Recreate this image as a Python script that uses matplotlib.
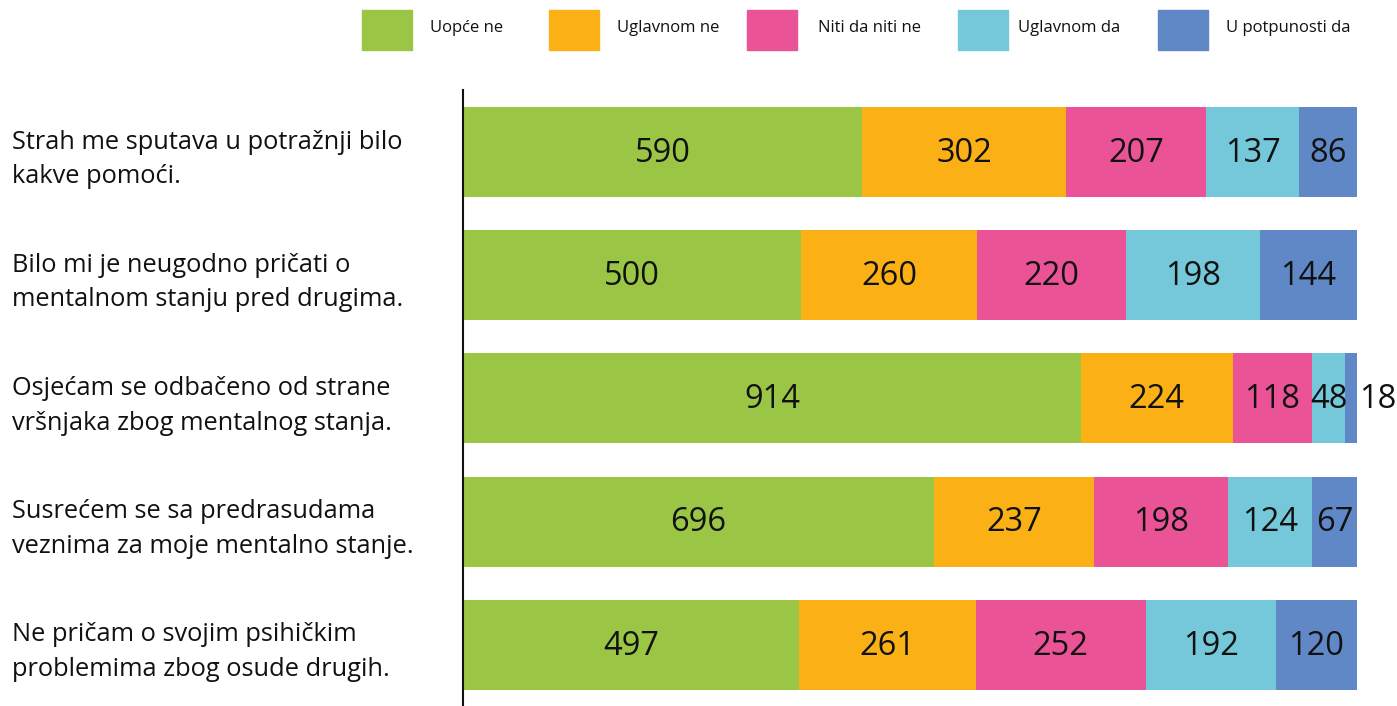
import numpy as np
import matplotlib.pyplot as plt
from matplotlib.patches import Rectangle

plt.rcParams['font.family'] = ['Open Sans', 'DejaVu Sans']

statements = [
    "Strah me sputava u potražnji bilo\nkakve pomoći.",
    "Bilo mi je neugodno pričati o\nmentalnom stanju pred drugima.",
    "Osjećam se odbačeno od strane\nvršnjaka zbog mentalnog stanja.",
    "Susrećem se sa predrasudama\nveznima za moje mentalno stanje.",
    "Ne pričam o svojim psihičkim\nproblemima zbog osude drugih.",
]
answers = ["Uopće ne", "Uglavnom ne", "Niti da niti ne", "Uglavnom da", "U potpunosti da"]
uopce_ne = [590, 500, 914, 696, 497]
uglavnom_ne = [302, 260, 224, 237, 261]
niti_da_niti_ne = [207, 220, 118, 198, 252]
uglavnom_da = [137, 198, 48, 124, 192]
potpuno_da = [86, 144, 18, 67, 120]
colors = ["#9BC545", "#FBB116", "#EA5497", "#75C8DA", "#6088C6"]

series = [uopce_ne, uglavnom_ne, niti_da_niti_ne, uglavnom_da, potpuno_da]

fig = plt.figure(figsize=(13.97, 7.06), dpi=100)
ax = fig.add_axes([463 / 1397, 0, (1357 - 463) / 1397, 1 - 90 / 706])

y = np.arange(len(statements))
left = np.zeros(len(statements))
for vals, col, name in zip(series, colors, answers):
    vals = np.array(vals, dtype=float)
    ax.barh(y, vals, left=left, color=col, height=0.73, label=name)
    for yi, v, l in zip(y, vals, left):
        xc = l + v / 2
        if v < 30:
            xc = l + v + 31
        ax.text(xc, yi + 0.01, f"{int(v)}", ha='center', va='center', fontsize=23.5, color='#111111')
    left += vals

ax.set_xlim(0, left.max())
ax.set_ylim(4.497, -0.503)
ax.set_yticks([])
ax.set_xticks([])
for s in ['top', 'right', 'bottom']:
    ax.spines[s].set_visible(False)
ax.spines['left'].set_linewidth(1.5)
ax.spines['left'].set_color('#111111')

for yi, txt in zip(y, statements):
    ax.text(-451 / 894 * left.max(), yi + 0.06, txt, ha='left', va='center', fontsize=18.3,
            linespacing=1.5, color='#111111')

# legend
leg_x = [362, 549, 747, 958, 1158]
leg_tx = [430, 617, 818, 1018, 1226]
for x0, tx, col, name in zip(leg_x, leg_tx, colors, answers):
    fig.patches.append(Rectangle((x0 / 1397, 1 - 50 / 706), 50 / 1397, 40 / 706,
                                 transform=fig.transFigure, color=col))
    fig.text(tx / 1397, 1 - 28 / 706, name, ha='left', va='center',
             fontsize=12, color='#111111')

fig.savefig("out.png", dpi=100)
